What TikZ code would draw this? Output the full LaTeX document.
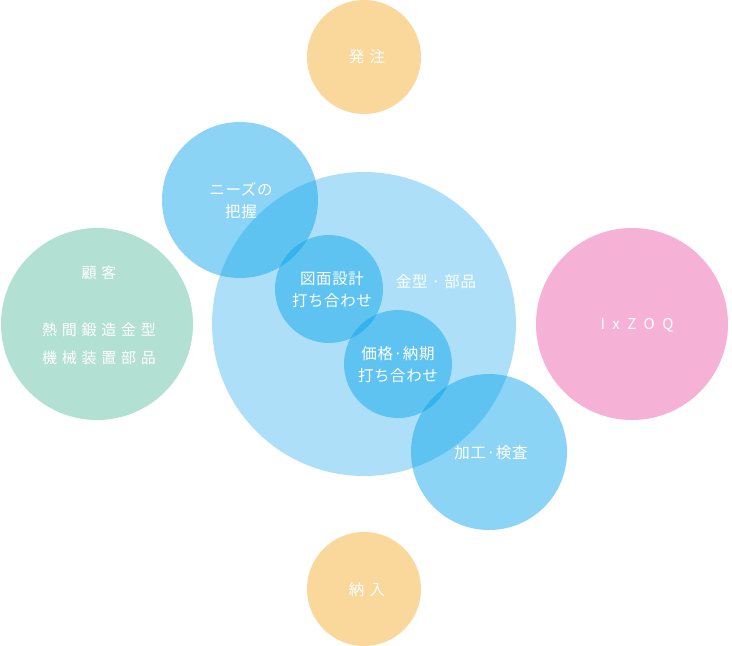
\documentclass[tikz,border=0pt]{standalone}
\usepackage{fontspec}
\setmainfont{Noto Sans CJK JP}
\definecolor{cblue}{HTML}{00A0E9}
\definecolor{cgreen}{HTML}{B2E0D3}
\definecolor{cpink}{HTML}{F6B2D6}
\definecolor{corange}{HTML}{FAD79B}
\begin{document}
\begin{tikzpicture}[x=1pt,y=-1pt,
  circ/.style={circle,inner sep=0pt,draw=none},
  bluec/.style={circ,fill=cblue,fill opacity=0.45},
  lbl/.style={text=white,inner sep=0pt,align=center,font=\fontsize{14}{22}\selectfont},
  wide/.style={lbl,font=\fontsize{15}{28}\selectfont\addfontfeature{LetterSpace=32}},
  mid/.style={lbl,font=\fontsize{15.5}{22}\selectfont\addfontfeature{LetterSpace=4}}]
\useasboundingbox (0,0) rectangle (732,646);
% outer circles
\node[circ,fill=corange,minimum size=114pt] (order) at (364,57) {};
\node[circ,fill=corange,minimum size=114pt] (deliv) at (364,589) {};
\node[circ,fill=cgreen,minimum size=192pt] (cust) at (97,324) {};
\node[circ,fill=cpink,minimum size=192pt] (ixzoq) at (632,324) {};
% blue circles
\node[circ,fill=cblue,fill opacity=0.32,minimum size=304pt] (big) at (364,324) {};
\node[bluec,minimum size=156pt] (needs) at (240,200) {};
\node[bluec,minimum size=108pt] (draw) at (329,289) {};
\node[bluec,minimum size=108pt] (price) at (398,364) {};
\node[bluec,minimum size=156pt] (proc) at (489,452) {};
% labels
\node[wide,font=\fontsize{15.5}{24}\selectfont\addfontfeature{LetterSpace=35}] (t1) at (367,57) {発注};
\node[wide,font=\fontsize{15.5}{24}\selectfont\addfontfeature{LetterSpace=35}] (t2) at (367,590) {納入};
\node[wide] (t3) at (99,273) {顧客};
\node[wide] (t4) at (99,344) {熱間鍛造金型\\機械装置部品};
\node[lbl,font=\fontsize{15}{24}\selectfont\addfontfeature{LetterSpace=50}] (t5) at (637,325) {IxZOQ};
\node[mid] (t6) at (241,201) {ニーズの\\把握};
\node[mid] (t7) at (332,290) {図面設計\\打ち合わせ};
\node[mid] (t8) at (398,365) {価格·納期\\打ち合わせ};
\node[mid] (t9) at (436,282) {金型 · 部品};
\node[mid] (t10) at (491,453) {加工·検査};
\end{tikzpicture}
\end{document}
